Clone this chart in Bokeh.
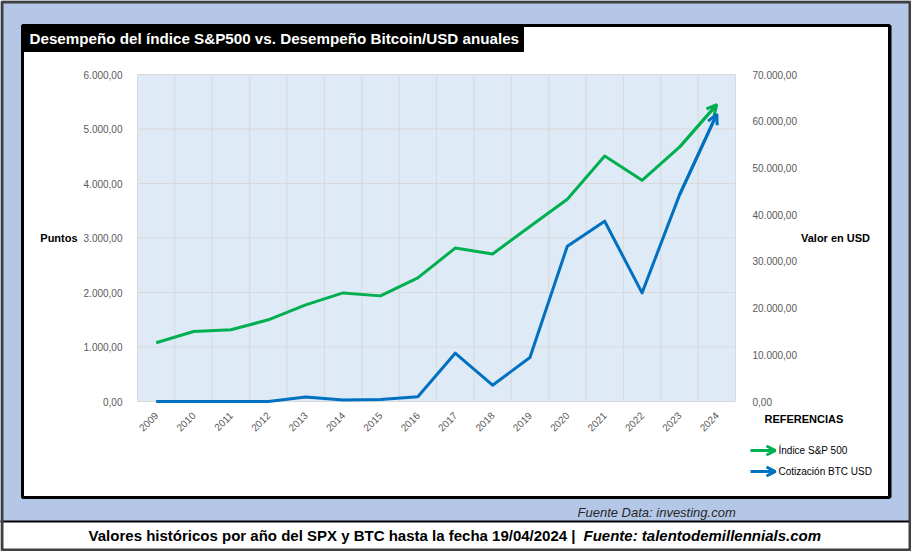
import math
from bokeh.plotting import figure
from bokeh.models import (Range1d, LinearAxis, FixedTicker, CustomJSTickFormatter, Label,
                          BoxAnnotation, Arrow, OpenHead)
from bokeh.embed import file_html
from bokeh.resources import INLINE

# ---------------- data ----------------
years = [2009, 2010, 2011, 2012, 2013, 2014, 2015, 2016,
         2017, 2018, 2019, 2020, 2021, 2022, 2023, 2024]
sp500 = [1079, 1285, 1316, 1499, 1773, 1993, 1938, 2267,
         2815, 2706, 3210, 3711, 4503, 4059, 4667, 5448]
btc = [0, 0.3, 5, 13, 950, 320, 430, 1000,
       10340, 3490, 9420, 33250, 38600, 23250, 44180, 61520]
left_ticks = [0, 1000, 2000, 3000, 4000, 5000, 6000]
right_ticks = [0, 10000, 20000, 30000, 40000, 50000, 60000, 70000]

title_text = "Desempeño del índice S&P500 vs. Desempeño Bitcoin/USD anuales"
left_label = "Puntos"
right_label = "Valor en USD"
legend_title = "REFERENCIAS"
series_names = ["Índice S&P 500", "Cotización BTC USD"]
source_text = "Fuente Data: investing.com"
footer_text1 = "Valores históricos por año del SPX y BTC hasta la fecha 19/04/2024 |"
footer_text2 = "Fuente: talentodemillennials.com"

# ---------------- style / layout ----------------
GREEN = "#00B050"
BLUE = "#0070C0"
OUTER_BG = "#B4C7E7"
PLOT_BG = "#DEEAF6"
GRID = "#D9D9D9"
TICK_COLOR = "#595959"
SANS = "Liberation Sans"

W, H = 911, 551
FL, FR, FT, FB = 137, 735, 74, 401   # plot area in page pixels

x0, x1 = years[0] - 0.5, years[-1] + 0.5
y0, y1 = left_ticks[0], left_ticks[-1]
b0, b1 = right_ticks[0], right_ticks[-1]
sx = (x1 - x0) / (FR - FL)
sy = (y1 - y0) / (FB - FT)
sb = (b1 - b0) / (FB - FT)

p = figure(width=W, height=H, output_backend="svg", toolbar_location=None,
           x_range=Range1d(x0 - FL * sx, x1 + (W - FR) * sx),
           y_range=Range1d(y0 - (H - FB) * sy, y1 + FT * sy),
           min_border=0, min_border_left=0, min_border_right=0,
           min_border_top=0, min_border_bottom=0)
p.border_fill_color = OUTER_BG
p.background_fill_color = OUTER_BG
p.outline_line_color = None
p.xgrid.visible = False
p.ygrid.visible = False
p.extra_y_ranges = {"btc": Range1d(b0 - (H - FB) * sb, b1 + FT * sb),
                    "py": Range1d(H, 0)}
p.extra_x_ranges = {"px": Range1d(0, W)}

fmt_code = r"""
const s = tick.toFixed(2).split('.');
const i = s[0].replace(/\B(?=(\d{3})+(?!\d))/g, '.');
return i + ',' + s[1];
"""

def style_axis(ax):
    ax.axis_line_color = None
    ax.major_tick_line_color = None
    ax.minor_tick_line_color = None
    ax.major_label_text_font = SANS
    ax.major_label_text_font_size = "10px"
    ax.major_label_text_color = TICK_COLOR
    ax.axis_label_text_font = SANS
    ax.axis_label_text_font_style = "bold"
    ax.axis_label_text_font_size = "11px"
    ax.axis_label_text_color = "black"

# ---------------- background boxes ----------------
def pbox(l, r, t, b, **kw):
    return BoxAnnotation(left=l, right=r, top=t, bottom=b,
                         x_range_name="px", y_range_name="py", **kw)

p.add_layout(pbox(22, 889, 25, 497, fill_color="white", fill_alpha=1,
                  line_color="black", line_alpha=1, line_width=3, level="image"))
p.add_layout(pbox(888, 891, 25, 497, fill_color="black", fill_alpha=1,
                  line_color=None, level="image"))
p.add_layout(BoxAnnotation(left=x0, right=x1, bottom=y0, top=y1, fill_color=PLOT_BG,
                           fill_alpha=1, line_color=None, level="image"))
p.add_layout(pbox(22, 523, 25, 51, fill_color="black", fill_alpha=1,
                  line_color="black", line_alpha=1, line_width=1, level="image"))
p.add_layout(pbox(-5, 920, 521, 560, fill_color="white", fill_alpha=1,
                  line_color="black", line_alpha=1, line_width=2, level="image"))

# ---------------- grid lines (category boundaries and left ticks) ----------------
bounds = [y - 0.5 for y in years] + [years[-1] + 0.5]
p.segment(x0=bounds, y0=[y0] * len(bounds), x1=bounds, y1=[y1] * len(bounds),
          line_color=GRID, line_width=1)
p.segment(x0=[x0] * len(left_ticks), y0=left_ticks, x1=[x1] * len(left_ticks), y1=left_ticks,
          line_color=GRID, line_width=1)

# ---------------- axes (fixed at plot-area edges) ----------------
xa = p.xaxis[0]
style_axis(xa)
xa.ticker = FixedTicker(ticks=years)
xa.fixed_location = y0
xa.bounds = (x0, x1)
xa.major_label_orientation = math.pi / 4
xa.major_label_standoff = 6

ya = p.yaxis[0]
style_axis(ya)
ya.ticker = FixedTicker(ticks=left_ticks)
ya.formatter = CustomJSTickFormatter(code=fmt_code)
ya.fixed_location = x0
ya.bounds = (y0, y1)
ya.major_label_standoff = 9
ya.axis_label = left_label
ya.axis_label_standoff = 3

ra = LinearAxis(y_range_name="btc", ticker=FixedTicker(ticks=right_ticks),
                formatter=CustomJSTickFormatter(code=fmt_code))
style_axis(ra)
ra.fixed_location = x1
ra.bounds = (b0, b1)
ra.major_label_standoff = 11
ra.axis_label = right_label
ra.axis_label_standoff = 1
p.add_layout(ra, "right")

try:
    ya.axis_label_orientation = "horizontal"
    ra.axis_label_orientation = "horizontal"
except Exception:
    pass

# ---------------- series ----------------
p.line(years, sp500, line_color=GREEN, line_width=3, line_join="round")
p.line(years, btc, line_color=BLUE, line_width=3, line_join="round", y_range_name="btc")
p.add_layout(Arrow(x_start=years[-2], y_start=sp500[-2], x_end=years[-1], y_end=sp500[-1],
                   line_color=GREEN, line_width=3,
                   end=OpenHead(size=10, line_color=GREEN, line_width=3)))
p.add_layout(Arrow(x_start=years[-2], y_start=btc[-2], x_end=years[-1], y_end=btc[-1],
                   line_color=BLUE, line_width=3, y_range_name="btc",
                   end=OpenHead(size=10, line_color=BLUE, line_width=3)))

# ---------------- texts ----------------
def plabel(x, y, text, **kw):
    base = dict(x=x, y=y, text=text, x_range_name="px", y_range_name="py",
                text_baseline="middle")
    base.update(kw)
    lab = Label(**base)
    p.add_layout(lab)
    return lab

plabel(29, 38, title_text, text_color="white", text_font=SANS,
       text_font_style="bold", text_font_size="15.2px")
plabel(764, 418, legend_title, text_font=SANS, text_font_style="bold",
       text_font_size="11px", text_color="black")

for i, (name, col) in enumerate(zip(series_names, [GREEN, BLUE])):
    yy = 450 + i * 21
    p.add_layout(Arrow(x_start=750, y_start=yy, x_end=775, y_end=yy,
                       x_range_name="px", y_range_name="py",
                       line_color=col, line_width=3,
                       end=OpenHead(size=9, line_color=col, line_width=3)))
    plabel(778, yy, name, text_font=SANS, text_font_size="10px", text_color="black")

plabel(577, 512, source_text, text_font=SANS, text_font_style="italic",
       text_font_size="13px", text_color="#262626")
plabel(575, 535, footer_text1, text_align="right", text_font=SANS,
       text_font_style="bold", text_font_size="15px", text_color="black")
plabel(583, 535, footer_text2, text_font=SANS,
       text_font_style="bold italic", text_font_size="15px", text_color="black")

# outer frame border
p.add_layout(pbox(1.5, 909.5, 1.5, 549.5, fill_alpha=0, line_color="#404040", line_alpha=1,
                  line_width=3, level="overlay"))

open("out.html", "w").write(file_html(p, INLINE))
